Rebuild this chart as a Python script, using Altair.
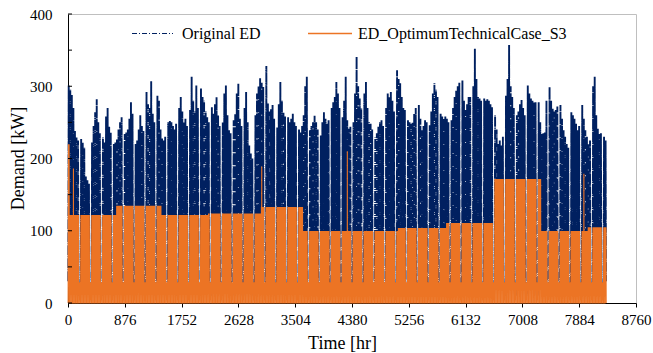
import altair as alt
import pandas as pd

# Hourly axis: one year of operation
year_hours = 8760
x_ticks = [0, 876, 1752, 2628, 3504, 4380, 5256, 6132, 7008, 7884, 8760]
y_ticks = [0, 50, 100, 150, 200, 250, 300, 350, 400]

# Original ED: daily peak demand [kW] for Mon..Sat of each week (Sunday is the off day)
first_day_peak = 301
week_peaks = [
    [295, 288, 270, 238, 229, 225],
    [227, 222, 215, 175, 170, 165],
    [222, 245, 264, 282, 250, 235],
    [229, 222, 258, 270, 244, 236],
    [220, 222, 227, 240, 250, 257],
    [234, 236, 240, 255, 278, 262],
    [220, 225, 240, 260, 245, 238],
    [292, 275, 270, 307, 262, 250],
    [287, 280, 240, 228, 225, 230],
    [250, 252, 250, 245, 240, 248],
    [270, 285, 265, 250, 255, 245],
    [267, 313, 280, 265, 301, 270],
    [297, 285, 280, 265, 257, 250],
    [271, 262, 275, 285, 260, 245],
    [250, 290, 301, 260, 239, 235],
    [253, 262, 290, 304, 255, 245],
    [270, 292, 250, 218, 207, 200],
    [260, 290, 300, 311, 305, 299],
    [328, 276, 265, 268, 274, 255],
    [243, 275, 306, 280, 264, 258],
    [257, 250, 255, 262, 250, 245],
    [240, 236, 245, 260, 300, 313],
    [239, 245, 250, 259, 250, 240],
    [232, 250, 264, 255, 248, 253],
    [270, 278, 285, 306, 290, 270],
    [257, 280, 313, 253, 241, 244],
    [250, 290, 341, 300, 283, 270],
    [290, 306, 270, 250, 248, 240],
    [229, 235, 244, 250, 253, 245],
    [270, 290, 285, 292, 280, 265],
    [322, 310, 304, 285, 270, 267],
    [253, 250, 248, 250, 262, 270],
    [274, 255, 239, 245, 253, 250],
    [246, 265, 290, 304, 295, 285],
    [262, 258, 255, 258, 255, 250],
    [253, 270, 285, 294, 300, 305],
    [308, 280, 267, 275, 285, 285],
    [300, 352, 310, 285, 283, 280],
    [283, 280, 282, 280, 275, 271],
    [260, 240, 220, 225, 218, 230],
    [287, 310, 357, 300, 285, 270],
    [260, 265, 275, 281, 270, 260],
    [301, 290, 283, 280, 278, 278],
    [278, 250, 234, 235, 236, 280],
    [299, 280, 269, 265, 267, 272],
    [274, 255, 239, 230, 220, 215],
    [264, 260, 255, 248, 239, 245],
    [274, 255, 239, 230, 220, 225],
    [300, 313, 260, 241, 234, 235],
    [230, 225],
]
night_kw = 30          # original demand outside working hours
sunday_kw = 26         # original demand on Sundays

# ED_OptimumTechnicalCase_S3: flat working-hour level per period
level_start_day = [0, 1, 31, 60, 90, 124, 151, 212, 243, 273, 304, 334]
level_kw = [219, 121, 134, 121, 123, 132, 99, 103, 110, 171, 99, 104]
sunday_opt_kw = 28
# isolated one-hour peaks of the optimised profile
spike_day = [3, 124, 179, 331]
spike_kw = [186, 189, 210, 179]

n_days = 7 * (len(week_peaks) - 1) + len(week_peaks[-1]) + 1

orig_rows = []
opt_rows = []
for d in range(n_days):
    h0 = 24 * d
    sunday = d % 7 == 0 and d > 0
    if d == 0:
        peak = first_day_peak
    elif sunday:
        peak = None
    else:
        peak = week_peaks[d // 7][d % 7 - 1]

    # original ED
    if peak is None:
        orig_rows += [(h0 + 5, 10), (h0 + 11, sunday_kw), (h0 + 17, 10)]
    else:
        orig_rows += [(h0 + 5, night_kw), (h0 + 11, peak), (h0 + 17, night_kw)]

    # optimised ED
    lvl = level_kw[max(i for i, s in enumerate(level_start_day) if s <= d)]
    if sunday:
        pts = [(h0 + 2, 0), (h0 + 8, sunday_opt_kw), (h0 + 16, sunday_opt_kw), (h0 + 21, 0)]
    else:
        pts = [(h0 + 2, 0), (h0 + 7, lvl), (h0 + 17, lvl), (h0 + 20, 0)]
        if d in spike_day:
            pts.insert(2, (h0 + 12, spike_kw[spike_day.index(d)]))
            pts.insert(2, (h0 + 11.5, lvl))
            pts.insert(4, (h0 + 12.5, lvl))
    opt_rows += pts

orig = pd.DataFrame(orig_rows, columns=["h", "v"])
opt = pd.DataFrame(opt_rows, columns=["h", "v"])

NAVY = "#002060"
ORANGE = "#EC7424"
FONT = "Liberation Serif"

x_enc = alt.X(
    "h:Q",
    scale=alt.Scale(domain=[0, year_hours], nice=False, zero=False),
    axis=alt.Axis(
        values=x_ticks, format="d", title="Time [hr]", grid=False,
        domainColor="black", domainWidth=1, tickColor="black", tickSize=4,
        labelFont=FONT, labelFontSize=15, labelColor="black", labelPadding=5,
        labelFlush=False, labelOverlap=False,
        titleFont=FONT, titleFontSize=18, titleFontWeight="normal", titleColor="black",
        titleX=274, titleY=40, titleBaseline="middle",
    ),
)
y_enc = alt.Y(
    "v:Q",
    scale=alt.Scale(domain=[0, 400], nice=False),
    axis=alt.Axis(
        values=y_ticks, title="Demand [kW]", grid=False,
        domainColor="black", domainWidth=1, tickSize=0,
        labelFont=FONT, labelFontSize=15, labelColor="black", labelPadding=16,
        labelFlush=False, labelOverlap=False,
        titleFont=FONT, titleFontSize=18, titleFontWeight="normal", titleColor="black",
        titleAngle=270, titleX=-50, titleY=144, titleBaseline="middle",
    ),
)

orig_line = alt.Chart(orig).mark_line(
    color=NAVY, strokeWidth=1.9, strokeDash=[10, 1, 1, 1], interpolate="linear"
).encode(x=x_enc, y=y_enc)

opt_line = alt.Chart(opt).mark_line(
    color=ORANGE, strokeWidth=1.1, interpolate="linear"
).encode(x="h:Q", y="v:Q")

# short inward ticks on the demand axis
tick_df = pd.DataFrame({"v": y_ticks})
y_tick_marks = alt.Chart(tick_df).mark_rule(color="black", strokeWidth=1).encode(
    y="v:Q", x=alt.value(0), x2=alt.value(4)
)

# legend drawn inside the plot area
legend_df = pd.DataFrame({"name": ["Original ED"]})
leg_orig_line = alt.Chart(legend_df).mark_rule(
    color=NAVY, strokeWidth=1, strokeDash=[5, 2, 1, 2]
).encode(x=alt.value(64), x2=alt.value(105), y=alt.value(19.5))
leg_orig_text = alt.Chart(legend_df).mark_text(
    font=FONT, fontSize=16, color="black", align="left", baseline="middle"
).encode(x=alt.value(114), y=alt.value(20), text="name:N")

legend_df2 = pd.DataFrame({"name": ["ED_OptimumTechnicalCase_S3"]})
leg_opt_line = alt.Chart(legend_df2).mark_rule(
    color=ORANGE, strokeWidth=1.5
).encode(x=alt.value(240), x2=alt.value(284), y=alt.value(19.5))
leg_opt_text = alt.Chart(legend_df2).mark_text(
    font=FONT, fontSize=16, color="black", align="left", baseline="middle"
).encode(x=alt.value(290), y=alt.value(20), text="name:N")

chart = alt.layer(
    orig_line, opt_line, y_tick_marks,
    leg_orig_line, leg_orig_text, leg_opt_line, leg_opt_text,
).properties(
    width=568, height=289,
    autosize=alt.AutoSizeParams(type="none"),
    padding={"left": 68, "top": 14, "right": 17, "bottom": 50},
    background="white",
).configure_view(stroke="#BFBFBF", strokeWidth=1)

chart.save("out.html", embed_options={"renderer": "svg", "actions": False})
